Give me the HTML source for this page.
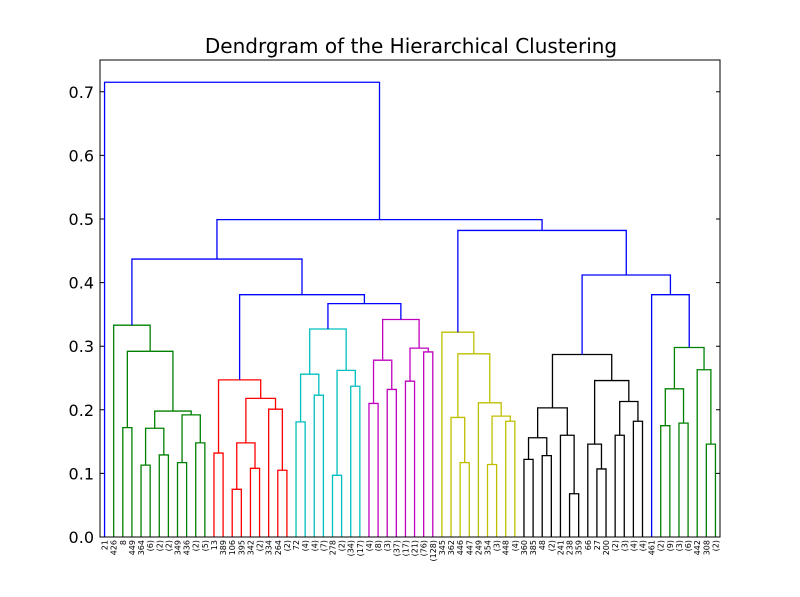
<!DOCTYPE html>
<html><head><meta charset="utf-8"><style>
body{margin:0;background:#fff}
svg{display:block;font-family:"DejaVu Sans","Liberation Sans",sans-serif}
</style></head><body>
<svg id="chart" width="800" height="597" viewBox="0 0 800 597" xmlns="http://www.w3.org/2000/svg">
<rect width="800" height="597" fill="#fff"/>
<text x="411" y="53" font-size="20" text-anchor="middle">Dendrgram of the Hierarchical Clustering</text>
<g id="links"></g>
<g id="axes"></g>
</svg>
<script>
const leafLabels = ["21","426","8","449","364","(6)","(2)","(2)","349","436","(2)","(5)","13","389","106","395","342","(2)","334","264","(2)","72","(4)","(4)","(7)","278","(2)","(34)","(17)","(4)","(8)","(3)","(37)","(17)","(21)","(76)","(128)","345","362","446","447","249","354","(3)","448","(4)","360","385","48","(2)","241","238","359","66","27","200","(2)","(3)","(4)","(4)","461","(2)","(9)","(3)","(6)","442","308","(2)"];
const mergeLeft = [2,4,6,69,8,10,72,71,68,1, 12,14,16,79,19,18,81,78, 21,23,86,25,27,89,88, 29,31,93,33,35,96,95, 92,85,77, 39,38,42,44,105,41,104,37, 46,48,111,51,50,113,54,53,56,58,119,118,116, 61,63,124,66,65,126, 60,123,110,102,0];
const mergeRight = [3,5,7,70,9,11,73,74,75,76, 13,15,17,80,20,82,83,84, 22,24,87,26,28,90,91, 30,32,94,34,36,97,98, 99,100,101, 40,103,43,45,106,107,108,109, 47,49,112,52,114,115,55,117,57,59,120,121,122, 62,64,125,67,127,128, 129,130,131,132,133];
const mergeHeight = [.172,.113,.129,.171,.117,.148,.192,.198,.292,.333, .132,.075,.108,.148,.105,.201,.218,.247, .181,.223,.256,.097,.237,.262,.327, .210,.232,.278,.245,.291,.297,.342, .367,.381,.437, .117,.188,.114,.182,.190,.211,.288,.322, .122,.128,.156,.068,.160,.203,.107,.146,.160,.182,.213,.246,.287, .175,.179,.233,.146,.263,.298, .381,.412,.482,.499,.715];
const mergeColor = ["g","g","g","g","g","g","g","g","g","g", "r","r","r","r","r","r","r","r", "c","c","c","c","c","c","c", "m","m","m","m","m","m","m", "b","b","b", "y","y","y","y","y","y","y","y", "k","k","k","k","k","k","k","k","k","k","k","k","k", "g","g","g","g","g","g", "b","b","b","b","b"];
const yTicks = [0,0.1,0.2,0.3,0.4,0.5,0.6,0.7];
const yTickLabels = ["0.0","0.1","0.2","0.3","0.4","0.5","0.6","0.7"];

const NS="http://www.w3.org/2000/svg";
const L=100,R=720,T=60,B=537,YMAX=0.75;
const colors={g:"#008000",r:"#ff0000",c:"#00bfbf",m:"#bf00bf",y:"#bfbf00",k:"#000000",b:"#0000ff"};
const n=leafLabels.length;
const xScale=i=>L+(i+0.5)*(R-L)/n;
const yScale=v=>B-v/YMAX*(B-T);
const nodeX=[],nodeH=[];
for(let i=0;i<n;i++){nodeX.push(xScale(i));nodeH.push(0);}
const links=document.getElementById('links');
for(let k=0;k<mergeLeft.length;k++){
  const a=mergeLeft[k],b=mergeRight[k],h=mergeHeight[k];
  const xa=nodeX[a],xb=nodeX[b];
  const p=document.createElementNS(NS,'path');
  p.setAttribute('d',`M${xa},${yScale(nodeH[a])}V${yScale(h)}H${xb}V${yScale(nodeH[b])}`);
  p.setAttribute('fill','none');
  p.setAttribute('stroke',colors[mergeColor[k]]);
  p.setAttribute('stroke-width','1.3');
  
  
  links.appendChild(p);
  nodeX.push((xa+xb)/2);nodeH.push(h);
}
const axes=document.getElementById('axes');
const fr=document.createElementNS(NS,'rect');
fr.setAttribute('x',L);fr.setAttribute('y',T);fr.setAttribute('width',R-L);fr.setAttribute('height',B-T);
fr.setAttribute('fill','none');fr.setAttribute('stroke','#000');fr.setAttribute('stroke-width','1');


axes.appendChild(fr);
yTicks.forEach((v,i)=>{
  const y=yScale(v);
  const t=document.createElementNS(NS,'path');
  t.setAttribute('d',`M${L},${y}h4M${R},${y}h-4`);
  t.setAttribute('stroke','#000');
  
  
  axes.appendChild(t);
  const tx=document.createElementNS(NS,'text');
  tx.setAttribute('x',L-6);tx.setAttribute('y',y+6);
  tx.setAttribute('font-size','16');tx.setAttribute('text-anchor','end');
  tx.textContent=yTickLabels[i];
  
  
  axes.appendChild(tx);
});
leafLabels.forEach((s,i)=>{
  const x=xScale(i);
  const tx=document.createElementNS(NS,'text');
  tx.setAttribute('transform',`translate(${x+3},${B+3}) rotate(-90)`);
  tx.setAttribute('font-size','8');tx.setAttribute('text-anchor','end');
  tx.textContent=s;
  
  
  axes.appendChild(tx);
});
</script>
</body></html>
